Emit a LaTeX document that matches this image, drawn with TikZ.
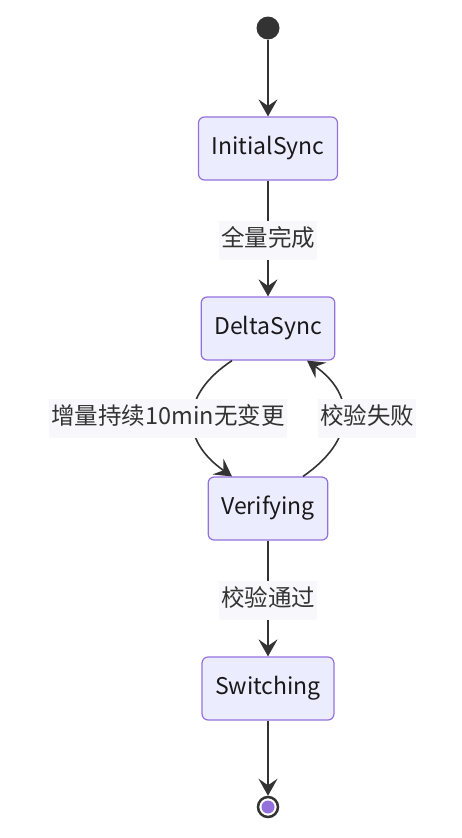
\documentclass[tikz,border=0pt]{standalone}
\usepackage{fontspec}
\setmainfont{Noto Sans CJK SC}
\usetikzlibrary{
	arrows.meta,
	calc,
	positioning
}
\definecolor{StateFill}{RGB}{236,236,255}
\definecolor{StateLine}{RGB}{147,112,219}
\definecolor{EdgeDark}{RGB}{51,51,51}
\definecolor{LabelBg}{RGB}{248,248,252}

\tikzset{
	statebox/.style={draw=StateLine, fill=StateFill, line width=1.2pt, rounded corners=6pt,
		minimum height=63pt, inner xsep=13pt, text=black!90,
		font=\fontsize{23}{28}\selectfont},
	trans/.style={draw=EdgeDark, line width=1.6pt, -{Stealth[length=17pt,width=19pt,inset=6.5pt]}},
	tlabel/.style={fill=LabelBg, inner xsep=2pt, inner ysep=8pt, text height=18pt, text depth=5pt,
		text=EdgeDark, font=\fontsize{23.5}{28}\selectfont}
}

\begin{document}
\begin{tikzpicture}[x=1pt, y=-1pt]
		\useasboundingbox (0,0) rectangle (462,838);
		
		% states
		\node[circle, fill=EdgeDark, minimum size=23pt, inner sep=0pt] (start) at (268,28) {};
		\node[statebox] (init) at (268,148.5) {InitialSync};
		\node[statebox] (delta) at (268,328.5) {DeltaSync};
		\node[statebox] (verif) at (268,508.5) {Verifying};
		\node[statebox] (switch) at (268,688.5) {Switching};
		\node[circle, draw=EdgeDark, line width=2.5pt, fill=white, minimum size=20pt, inner sep=0pt] (finish) at (268,807) {};
		\fill[StateLine] (finish) circle (6.5pt);
		
		% transitions
		\draw[trans] (start) -- (init);
		\draw[trans] (init) -- (delta);
		\draw[trans] ($(delta.south)+(-36,0)$) .. controls (180,395) and (180,440) .. ($(verif.north)+(-36,0)$);
		\draw[trans] ($(verif.north)+(35,0)$) .. controls (356,440) and (356,395) .. ($(delta.south)+(39,0)$);
		\draw[trans] (verif) -- (switch);
		\draw[trans] (switch) -- (finish);
		
		% labels
		\node[tlabel] (lfull) at (268,240) {全量完成};
		\node[tlabel] (lidle) at (168,418) {增量持续10min无变更};
		\node[tlabel] (lfail) at (367,418) {校验失败};
		\node[tlabel] (lpass) at (268,600) {校验通过};
	\end{tikzpicture}
\end{document}
